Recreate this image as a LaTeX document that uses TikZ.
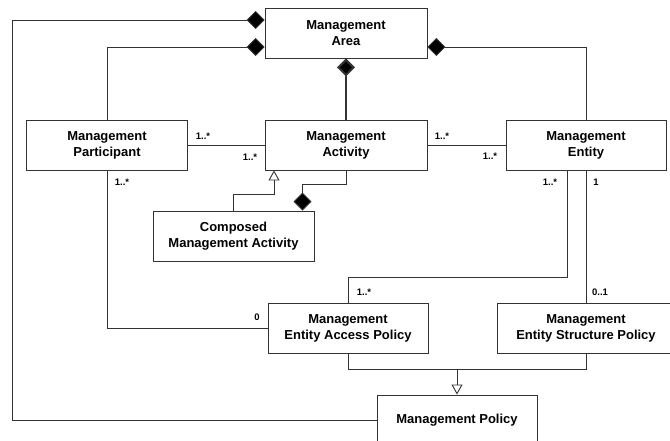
\documentclass[tikz,border=0pt]{standalone}
\usepackage{fontspec}
\setmainfont{Liberation Sans}
\usetikzlibrary{arrows.meta}
\begin{document}
\begin{tikzpicture}[x=1pt, y=-1pt,
    umlbox/.style={draw=black!80, line width=0.9pt, fill=white, minimum height=50pt,
                   align=center, inner sep=0pt, font=\fontsize{13}{16}\selectfont\bfseries},
    mult/.style={inner sep=0pt, font=\fontsize{9.5}{11}\selectfont\bfseries},
    conn/.style={draw=black!80, line width=0.9pt},
    comp/.style={conn, -{Diamond[length=18pt, width=18pt, fill=black]}},
    gen/.style={conn, -{Triangle[open, length=10pt, width=11pt, fill=white]}}]
        \useasboundingbox (0,0) rectangle (670,441);
        \clip (0,0) rectangle (670,441);
        % classes
        \node[umlbox, minimum width=162pt] (area)        at (346,  33) {Management\\Area};
        \node[umlbox, minimum width=161pt] (participant) at (107, 145) {Management\\Participant};
        \node[umlbox, minimum width=162pt] (activity)    at (346, 145) {Management\\Activity};
        \node[umlbox, minimum width=160pt] (entity)      at (586, 145) {Management\\Entity};
        \node[umlbox, minimum width=161pt] (composed)    at (233.5, 236) {Composed\\Management Activity};
        \node[umlbox, minimum width=160pt] (access)      at (348, 328) {Management\\Entity Access Policy};
        \node[umlbox, minimum width=178pt] (structure)   at (586, 328) {Management\\Entity Structure Policy};
        \node[umlbox, minimum width=160pt] (policy)      at (457, 420) {Management Policy};
        % compositions into the area
        \draw[comp] (policy.west) -| (12,20) -- ([yshift=13pt]area.west);
        \draw[comp] (participant.north) |- ([yshift=-14pt]area.west);
        \draw[comp] (entity.north) |- ([yshift=-14pt]area.east);
        \draw[comp, line width=2pt] (activity.north) -- (area.south);
        % associations
        \draw[conn] (participant) -- (activity);
        \draw[conn] (activity) -- (entity);
        \draw[conn] (participant.south) |- (access.west);
        \draw[conn] ([xshift=-19pt]entity.south) -- ++(0,107) -| (access.north);
        \draw[conn] (entity.south) -- (entity.south |- structure.north);
        % composed activity
        \draw[gen] (composed.north) -- ++(0,-16) -| ([xshift=-72pt]activity.south);
        \draw[comp] (activity.south) -- ++(0,14) -| ([xshift=69pt]composed.north);
        % policies
        \draw[conn] (access.south) -- ++(0,16) coordinate (policybus) -| (structure.south);
        \draw[gen] (policybus -| policy.north) -- (policy.north);
        % multiplicities
        \node[mult] (m1) at (203, 136) {1..*};
        \node[mult] (m2) at (250, 157) {1..*};
        \node[mult] (m3) at (442, 136) {1..*};
        \node[mult] (m4) at (490, 156) {1..*};
        \node[mult] (m5) at (122, 182) {1..*};
        \node[mult] (m6) at (550, 182) {1..*};
        \node[mult] (m7) at (596, 182) {1};
        \node[mult] (m8) at (257, 317) {0};
        \node[mult] (m9) at (364, 292) {1..*};
        \node[mult] (m10) at (600, 292) {0..1};
      \end{tikzpicture}
\end{document}
